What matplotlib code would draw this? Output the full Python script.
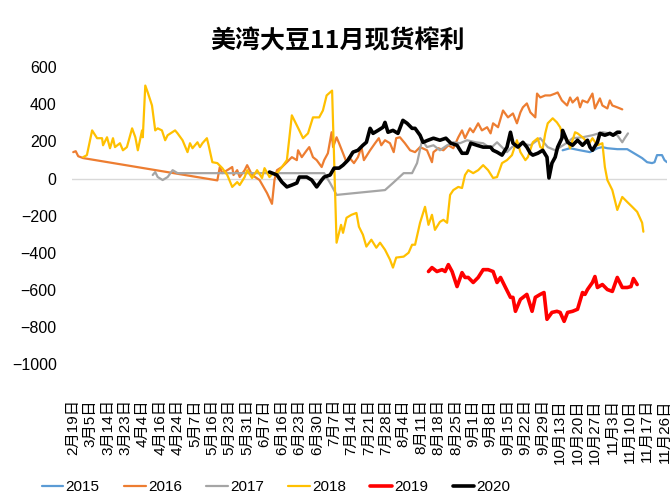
import numpy as np
import matplotlib
matplotlib.use('Agg')
import matplotlib.pyplot as plt

plt.rcParams['font.family'] = ['Liberation Sans', 'Noto Sans CJK SC']

# x positions are trading-day index (one tick label every 7 days)
tick_labels = ['2月19日', '3月5日', '3月14日', '3月23日', '4月4日', '4月16日', '4月24日',
               '5月7日', '5月16日', '5月23日', '5月31日', '6月7日', '6月16日', '6月23日',
               '6月30日', '7月7日', '7月14日', '7月21日', '7月28日', '8月4日', '8月11日',
               '8月18日', '8月25日', '9月1日', '9月8日', '9月15日', '9月22日', '9月29日',
               '10月13日', '10月20日', '10月27日', '11月3日', '11月10日', '11月17日', '11月26日']

x15 = [197, 200, 204, 208, 211, 213, 215, 219, 223, 225, 227, 229, 231, 233, 234, 235, 237, 238, 239]
y15 = [152, 163, 152, 142, 163, 169, 163, 158, 158, 142, 126, 110, 88, 83, 88, 126, 126, 99, 88]

x16 = [0, 1, 2, 4, 58, 59, 60, 62, 64, 64.5, 66, 67, 69, 70, 72, 75, 78, 80, 81, 82, 84, 86, 88, 90,
       90.5, 92, 94, 95, 96.5, 98, 100, 101, 102.5, 104, 104.6, 106, 107, 108.6, 110, 111, 113, 114.6,
       116, 117, 119.5, 121.5, 123, 124, 125.5, 127.5, 129, 130, 131.5, 133.5, 135.6, 137.6, 139.6,
       142.4, 144.4, 145, 147, 149, 151, 153, 155, 156.5, 157.7, 159.7, 161, 163, 164.5, 166.6, 168,
       169, 171, 173, 175, 177, 178.6, 180, 181, 182.6, 184, 186, 186.7, 188, 190, 192, 194, 195,
       196.7, 198.8, 200, 201, 203, 204, 205, 207, 209, 210, 212, 213, 215, 216, 217, 219, 221]
y16 = [142, 147, 120, 110, -10, 62, 29, 45, 62, 19, 45, 8, 45, 72, 19, -8, -78, -136, -8, 45, 62, 88,
       115, 99, 152, 115, 152, 169, 115, 99, 62, 99, 136, 249, 169, 222, 190, 136, 88, 115, 83, 115,
       169, 99, 152, 190, 217, 179, 206, 190, 142, 217, 222, 190, 152, 142, 169, 152, 88, 142, 163,
       152, 179, 163, 222, 259, 217, 270, 249, 297, 259, 276, 243, 297, 276, 366, 329, 350, 297, 356,
       383, 404, 356, 329, 457, 436, 447, 447, 457, 463, 420, 393, 436, 409, 436, 383, 420, 409, 457,
       377, 431, 393, 377, 420, 393, 383, 372]

x17 = [32, 33, 34, 36, 38, 40, 42, 101, 103.4, 106, 125.5, 128.7, 133, 136.4, 138.4, 140.4, 142.4,
       145, 147.6, 150.5, 153, 155.7, 158.5, 162, 165, 168, 170.6, 174.6, 176.6, 180, 184, 188, 191,
       194, 196, 199, 201, 205, 209, 213, 216, 219, 221, 222, 223.3]
y17 = [19, 35, 8, -8, 8, 45, 29, 29, -24, -88, -62, -24, 29, 29, 83, 206, 169, 179, 152, 179, 195,
       190, 206, 195, 190, 163, 195, 142, 169, 190, 179, 217, 169, 152, 169, 195, 217, 222, 233, 249,
       243, 233, 195, 217, 243]

x18 = [4, 5.5, 7.6, 9.6, 11.6, 12, 13.6, 14.8, 16, 16.8, 18.8, 20, 21.6, 23.7, 25, 26, 27.7, 28, 29,
       30, 31.7, 33, 34, 35.7, 37, 38, 41, 42, 44, 46, 47, 48, 50, 51, 52, 53.8, 54.5, 56, 58, 60, 62,
       64, 66, 67, 69, 70, 72, 74, 76, 77, 79, 80.4, 82, 84, 86, 88, 89, 91, 92.5, 94.5, 96.5, 99,
       100.5, 102, 104.2, 106, 107.8, 108.6, 110, 112, 114, 115, 116.6, 118, 120, 122, 123.5, 125.5,
       127.5, 128.7, 130, 133, 135, 136.4, 137.6, 139.6, 141.6, 143, 144.4, 145.6, 147.6, 149, 150.5,
       151.7, 153, 155, 156.5, 157.7, 159, 161, 163, 165, 167, 169, 170.6, 172.6, 174.6, 176.6, 178.6,
       180, 182, 183, 185, 187, 188, 189, 190, 191, 193, 194.7, 196, 197, 199, 200, 202, 203, 205,
       207, 208, 209, 211, 213, 214, 215, 217, 218, 219, 221, 223, 225, 227, 229, 229.5]
y18 = [115, 126, 259, 217, 217, 179, 222, 163, 217, 169, 190, 152, 169, 270, 222, 152, 259, 222, 500,
       463, 393, 259, 270, 259, 206, 233, 259, 243, 206, 142, 190, 163, 195, 169, 190, 217, 179, 88,
       83, 56, 19, -45, -19, -35, 8, 45, 3, 45, 3, 56, 8, 29, 29, 62, 99, 340, 313, 259, 217, 243, 329,
       329, 366, 447, 473, -345, -249, -292, -211, -195, -185, -259, -302, -366, -329, -372, -345,
       -383, -436, -479, -425, -420, -399, -356, -356, -238, -152, -249, -195, -276, -233, -222, -238,
       -88, -62, -45, -51, 19, 45, 29, 45, 72, 45, 3, 8, 83, 99, 126, 206, 142, 99, 115, 195, 217, 169,
       163, 243, 297, 324, 302, 276, 233, 206, 163, 249, 243, 222, 195, 195, 217, 179, 190, 62, -8,
       -62, -115, -169, -99, -126, -152, -179, -238, -286]

x19 = [143, 144.4, 146.4, 148.5, 149.7, 151, 152.5, 154.5, 156.5, 157.7, 159, 161, 163, 165, 167,
       169, 170.6, 172, 174, 176, 177, 178, 180, 182.6, 184.7, 186, 188, 189.5, 190.7, 192.7, 194.7,
       196, 197.6, 199, 201, 203, 205, 206, 207, 209, 210, 211, 213, 215, 217, 219, 221, 223, 224.5,
       225.5, 227]
y19 = [-500, -479, -500, -490, -500, -463, -500, -581, -506, -532, -532, -559, -532, -490, -490, -500,
       -559, -532, -586, -639, -639, -714, -650, -623, -714, -639, -623, -613, -757, -720, -714, -720,
       -768, -720, -714, -703, -613, -623, -597, -559, -527, -586, -570, -597, -607, -532, -586, -586,
       -581, -538, -570]

x20 = [79, 82, 84, 86, 88, 90, 91, 94, 96, 98, 100, 101, 103.4, 105, 107, 108.6, 110.6, 112.6, 114.6,
       116.6, 118, 119.5, 120.7, 122.7, 124.7, 125.5, 126.7, 128.7, 130.7, 132.7, 134.4, 136.4, 137.6,
       139.6, 140.8, 142.8, 145, 147.6, 150, 152, 154.5, 156.5, 158.5, 160, 162.5, 165, 168, 169,
       170.6, 172.6, 174.6, 176, 177, 179, 181, 182.6, 184, 185, 187, 189, 190.7, 191.5, 192.7, 194,
       195, 196.7, 197, 199, 201, 203, 205, 207, 208, 209, 211, 212, 214, 216, 217.3, 219, 220]
y20 = [35, 19, -19, -45, -35, -24, 8, 8, -8, -45, -8, 8, 19, 56, 56, 72, 99, 142, 152, 179, 195, 270,
       243, 259, 276, 302, 249, 259, 243, 313, 297, 270, 270, 233, 195, 206, 217, 206, 217, 190, 179,
       136, 136, 190, 179, 169, 169, 152, 142, 126, 169, 249, 190, 169, 195, 169, 136, 126, 136, 152,
       115, 3, 83, 115, 169, 217, 259, 195, 179, 206, 179, 206, 169, 152, 195, 243, 233, 243, 233,
       249, 249]

series = [('2015', x15, y15, '#5B9BD5', 1.6),
          ('2016', x16, y16, '#ED7D31', 1.6),
          ('2017', x17, y17, '#A5A5A5', 1.6),
          ('2018', x18, y18, '#FFC000', 1.6),
          ('2019', x19, y19, '#FF0000', 2.6),
          ('2020', x20, y20, '#000000', 2.6)]

fig = plt.figure(figsize=(6.71, 5.01), dpi=100)
ax = fig.add_axes([0.1073, 0.2725, 0.8867, 0.5938])

ax.axhline(0, color='#D9D9D9', lw=1, zorder=1)
handles = []
for name, xs, ys, col, lw in series:
    ln, = ax.plot(xs, ys, color=col, lw=lw, label=name, zorder=2,
                  solid_joinstyle='round', solid_capstyle='round')
    handles.append(ln)

ax.set_xlim(-0.5, 239)
ax.set_ylim(-1000, 600)
ax.set_yticks(range(-1000, 601, 200))
ax.set_xticks(np.arange(len(tick_labels)) * 7)
ax.set_xticklabels(tick_labels, rotation=90, fontsize=11)
for s in ax.spines.values():
    s.set_visible(False)
ax.tick_params(length=0)
ax.tick_params(axis='y', labelsize=11.5, pad=11)
ax.tick_params(axis='x', pad=25)

fig.text(0.503, 0.918, '美湾大豆11月现货榨利', ha='center', va='center',
         fontsize=18, fontweight='bold', family=['Noto Sans CJK SC'])

fig.legend(handles=handles, loc='center left', bbox_to_anchor=(0.0626, 0.028), ncol=6,
           frameon=False, handlelength=1.4, handletextpad=0.15, columnspacing=1.6,
           borderpad=0, borderaxespad=0, fontsize=11)

fig.savefig('out.png', dpi=100)
